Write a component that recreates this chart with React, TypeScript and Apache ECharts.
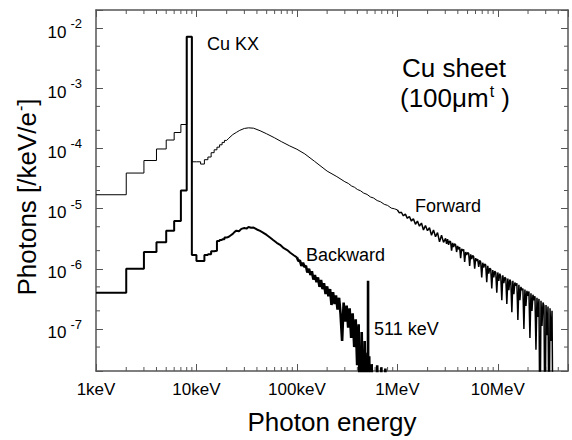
import React, { useEffect, useRef } from 'react';
import * as echarts from 'echarts';

const FONT = '"Liberation Sans", Arial, Helvetica, sans-serif';
const AXIS_COLOR = '#555';

// ---- Low-energy histogram (1 keV bins), edges in keV ----
const binEdges = [1, 2, 3, 4, 5, 6, 7, 8, 9, 10, 11, 12, 13, 14, 15, 16, 17, 18, 19, 20];
const forwardBinValues = [
  1.7e-5, 3.9e-5, 6.3e-5, 9.8e-5, 1.38e-4, 1.84e-4, 2.5e-4, 7.2e-3, 6.0e-5,
  6.0e-5, 5.5e-5, 6.5e-5, 7.2e-5, 8.5e-5, 9.5e-5, 1.05e-4, 1.15e-4, 1.26e-4, 1.36e-4,
];
const backwardBinValues = [
  4.0e-7, 1.0e-6, 1.9e-6, 2.75e-6, 4.3e-6, 6.2e-6, 2.0e-5, 7.2e-3, 1.7e-6,
  1.35e-6, 1.35e-6, 1.7e-6, 1.75e-6, 1.95e-6, 2.0e-6, 2.9e-6, 3.0e-6, 3.1e-6, 3.3e-6,
];

// ---- Forward spectrum, smooth part (keV, photons/keV/e-) ----
const forwardEnergy = [
  21, 23, 25, 27, 30, 33, 37, 43, 50, 60, 70, 85, 100, 120, 150, 200, 250, 300, 325, 350,
  375, 400, 430, 460, 500, 540, 580, 630, 680, 740, 800, 870, 940, 1000,
];
const forwardValue = [
  1.48e-4, 1.7e-4, 1.85e-4, 2.0e-4, 2.15e-4, 2.2e-4, 2.17e-4, 1.97e-4, 1.75e-4, 1.5e-4,
  1.3e-4, 1.1e-4, 9.7e-5, 8.1e-5, 6.1e-5, 4.2e-5, 3.4e-5, 2.8e-5, 2.62e-5, 2.38e-5,
  2.26e-5, 2.08e-5, 1.98e-5, 1.82e-5, 1.72e-5, 1.56e-5, 1.5e-5, 1.36e-5, 1.3e-5, 1.18e-5,
  1.13e-5, 1.02e-5, 9.9e-6, 9.55e-6,
];

// ---- Forward spectrum, noisy high-energy bins ----
const forwardNoiseEnergy = [
  1000, 1047, 1096, 1148, 1202, 1259, 1318, 1380, 1445, 1514, 1585, 1660, 1738, 1820, 1905,
  1995, 2089, 2188, 2291, 2399, 2512, 2630, 2754, 2884, 3020,
  3090, 3162, 3236, 3311, 3388, 3467, 3548, 3631, 3715, 3802, 3890, 3981, 4074, 4169, 4266,
  4365, 4467, 4571, 4677, 4786, 4898, 5012, 5129, 5248, 5370, 5495, 5623, 5754, 5888, 6026,
  6166, 6310, 6457, 6607, 6761, 6918, 7079, 7244, 7413, 7586, 7762, 7943, 8128, 8318, 8511,
  8710, 8913, 9120, 9333, 9550, 9772, 10000, 10233, 10471, 10715, 10965, 11220, 11482, 11749,
  12023, 12303, 12589, 12882, 13183, 13490, 13804, 14125, 14454, 14791, 15136, 15488, 15849,
  16218, 16596, 16982, 17378, 17783, 18197, 18621, 19055, 19498, 19953, 20417, 20893, 21380,
  21878, 22387, 22909, 23442, 23988, 24547, 25119, 25704, 26303, 26915, 27542, 28184, 28840,
  29512, 30200, 30903, 31623, 32359, 33113, 33884, 34674, 35481,
];
const forwardNoiseValue = [
  9.55e-6, 8.5e-6, 8.7e-6, 7.6e-6, 8.1e-6, 6.9e-6, 7.4e-6, 6.2e-6, 6.8e-6, 5.5e-6, 6.2e-6,
  5.1e-6, 5.75e-6, 4.4e-6, 5.25e-6, 4.3e-6, 4.8e-6, 3.6e-6, 4.4e-6, 3.4e-6, 4.0e-6, 2.8e-6,
  3.6e-6, 2.75e-6, 3.2e-6,
  2.6e-6, 3.1e-6, 2.5e-6, 2.9e-6, 2.8e-6, 2.0e-6, 2.7e-6, 2.3e-6, 2.6e-6, 2.5e-6, 1.9e-6,
  2.4e-6, 2.1e-6, 2.3e-6, 1.5e-6, 2.15e-6, 2.0e-6, 2.1e-6, 1.3e-6, 1.9e-6, 1.7e-6, 1.86e-6,
  1.8e-6, 1.12e-6, 1.74e-6, 1.45e-6, 1.66e-6, 1.58e-6, 1.0e-6, 1.5e-6, 1.35e-6, 1.45e-6,
  1.07e-6, 1.38e-6, 1.29e-6, 7.2e-7, 1.26e-6, 1.05e-6, 1.2e-6, 1.15e-6, 6.0e-7, 1.12e-6,
  8.3e-7, 1.02e-6, 9.8e-7, 4.7e-7, 9.5e-7, 7.2e-7, 9.1e-7, 8.7e-7, 4.0e-7, 8.7e-7, 6.3e-7,
  8.3e-7, 7.4e-7, 3.0e-7, 7.8e-7, 5.75e-7, 7.2e-7, 6.9e-7, 2.6e-7, 6.9e-7, 4.4e-7, 6.6e-7,
  6.0e-7, 1.9e-7, 6.3e-7, 3.8e-7, 5.9e-7, 5.25e-7, 5.75e-7, 1.41e-7, 5.4e-7, 3.0e-7, 5.0e-7,
  4.4e-7, 4.7e-7, 1.0e-7, 4.5e-7, 2.4e-7, 4.3e-7, 3.55e-7, 4.2e-7, 7.1e-8, 3.9e-7, 2.0e-7,
  3.7e-7, 3.0e-7, 3.5e-7, 4.5e-8, 3.3e-7, 1.58e-7, 3.16e-7, 1e-9, 2.95e-7, 1.12e-7, 2.75e-7,
  2.4e-7, 1e-9, 2.5e-7, 7.9e-8, 2.35e-7, 1e-9, 2.2e-7, 6.3e-8, 2.0e-7, 1e-9,
];

// ---- Backward spectrum, smooth part ----
const backwardEnergy = [
  21, 22, 23, 24, 25, 26.5, 28, 30, 31.5, 33, 35, 37, 40, 43, 46, 50, 54, 58, 63, 68, 74, 80,
  86, 93, 100,
];
const backwardValue = [
  3.4e-6, 3.6e-6, 3.8e-6, 4.1e-6, 4.3e-6, 4.2e-6, 4.6e-6, 4.75e-6, 4.65e-6, 4.95e-6, 4.8e-6,
  4.85e-6, 4.5e-6, 4.25e-6, 4.0e-6, 3.65e-6, 3.3e-6, 3.0e-6, 2.7e-6, 2.5e-6, 2.2e-6, 2.05e-6,
  1.85e-6, 1.68e-6, 1.55e-6,
];

// ---- Backward spectrum, noisy bins incl. the 511 keV annihilation line ----
const backwardNoiseEnergy = [
  100, 103.5, 107, 111, 115, 119, 123, 127, 132, 136.5, 141, 146, 151, 157, 162, 168, 174, 180,
  186, 193, 200, 206, 214, 221, 229, 237, 245, 254, 263, 272, 282, 292, 302, 313, 324, 335,
  347, 359, 372, 385, 398, 412, 427, 442, 457, 473, 490, 505, 509, 511, 513, 525, 540, 555,
  575, 603, 630, 660, 692, 724, 760, 794,
];
const backwardNoiseValue = [
  1.55e-6, 1.35e-6, 1.38e-6, 1.12e-6, 1.26e-6, 1.07e-6, 1.12e-6, 8.7e-7, 1.0e-6, 7.9e-7,
  9.1e-7, 6.6e-7, 7.9e-7, 6.0e-7, 7.2e-7, 5.0e-7, 6.5e-7, 4.6e-7, 5.75e-7, 3.8e-7, 5.1e-7,
  3.5e-7, 4.6e-7, 2.5e-7, 4.1e-7, 2.6e-7, 3.6e-7, 2.1e-7, 3.3e-7, 1.78e-7, 6.3e-8, 2.75e-7,
  1.32e-7, 2.45e-7, 1.05e-7, 2.2e-7, 7.1e-8, 1.82e-7, 5.0e-8, 1.45e-7, 2.5e-8, 1.2e-7, 1e-9,
  8.9e-8, 1e-9, 6.3e-8, 1e-9, 4.0e-8, 1e-9, 6.3e-7, 1e-9, 3.5e-8, 1e-9, 2.6e-8, 1e-9, 1e-9,
  2.5e-8, 1e-9, 2.3e-8, 1e-9, 2.2e-8, 1e-9,
];

// ---- Axes ----
const xTickLabels = ['1keV', '10keV', '100keV', '1MeV', '10MeV'];
const xRange = [1, 50000];
const yRange = [2e-8, 2e-2];
const xMinorMultipliers = [2, 3, 4, 5, 6, 7, 8, 9];
const yMinorMultipliers = [2, 5];
const xDecades = [1, 10, 100, 1000, 10000];
const yDecades = [1e-8, 1e-7, 1e-6, 1e-5, 1e-4, 1e-3, 1e-2];

function histogram(edges: number[], values: number[]) {
  const pts: number[][] = [];
  values.forEach((v, i) => {
    pts.push([edges[i], v], [edges[i + 1], v]);
  });
  return pts;
}

function pairs(xs: number[], ys: number[]) {
  return xs.map((x, i) => [x, ys[i]]);
}

function decadeExponent(v: number): number | null {
  const e = Math.round(Math.log10(v));
  const p = Math.pow(10, e);
  return Math.abs(v - p) / p < 1e-6 ? e : null;
}

export default function App() {
  const ref = useRef<HTMLDivElement>(null);

  useEffect(() => {
    if (!ref.current) return;
    const chart = echarts.init(ref.current, null, { renderer: 'svg' });

    const forwardData = [...histogram(binEdges, forwardBinValues), ...pairs(forwardEnergy, forwardValue)];
    const backwardData = [...histogram(binEdges, backwardBinValues), ...pairs(backwardEnergy, backwardValue)];

    const xMinor: number[][] = [];
    xDecades.forEach((d) =>
      xMinorMultipliers.forEach((m) => {
        if (d * m < xRange[1]) xMinor.push([d * m, 1e-5]);
      })
    );
    const yMinor: number[][] = [];
    yDecades.forEach((d) =>
      yMinorMultipliers.forEach((m) => {
        const v = d * m;
        if (v > yRange[0] * 1.0001 && v < yRange[1] * 0.9999) yMinor.push([10, v]);
      })
    );

    const axisLine = { show: true, lineStyle: { color: AXIS_COLOR, width: 1.5 } };
    const axisTick = { show: true, inside: true, length: 7, lineStyle: { color: AXIS_COLOR, width: 1 } };
    const tickStyle = { stroke: AXIS_COLOR, lineWidth: 1 };
    const lineBase = { type: 'line', xAxisIndex: 0, yAxisIndex: 0, showSymbol: false, symbol: 'none', clip: true, silent: true };

    const option: any = {
      animation: false,
      backgroundColor: '#ffffff',
      grid: { left: 96, right: 4, top: 10, bottom: 66, containLabel: false },
      xAxis: [
        {
          type: 'log',
          logBase: 10,
          min: xRange[0],
          max: xRange[1],
          position: 'bottom',
          name: 'Photon energy',
          nameLocation: 'middle',
          nameGap: 38,
          nameTextStyle: { fontSize: 26, fontFamily: FONT, color: '#000' },
          axisLine,
          axisTick,
          minorTick: { show: false },
          splitLine: { show: false },
          axisLabel: {
            show: true,
            margin: 10,
            fontSize: 17,
            fontFamily: FONT,
            color: '#000',
            showMinLabel: true,
            formatter: (v: number) => {
              const e = decadeExponent(v);
              return e === null ? '' : xTickLabels[e] ?? '';
            },
          },
        },
        {
          type: 'log',
          logBase: 10,
          min: xRange[0],
          max: xRange[1],
          position: 'top',
          axisLine,
          axisTick,
          axisLabel: { show: false },
          splitLine: { show: false },
        },
      ],
      yAxis: [
        {
          type: 'log',
          logBase: 10,
          min: yRange[0],
          max: yRange[1],
          position: 'left',
          axisLine,
          axisTick,
          splitLine: { show: false },
          axisLabel: {
            show: true,
            margin: 14,
            fontSize: 17,
            fontFamily: FONT,
            color: '#000',
            formatter: (v: number) => {
              const e = decadeExponent(v);
              return e === null ? '' : `{b|10}{s|${e}}`;
            },
            rich: {
              b: { fontSize: 17, fontFamily: FONT, color: '#000', padding: [8, 0, 0, 0] },
              s: { fontSize: 13, fontFamily: FONT, color: '#000', padding: [0, 0, 9, 4] },
            },
          },
        },
        {
          type: 'log',
          logBase: 10,
          min: yRange[0],
          max: yRange[1],
          position: 'right',
          axisLine,
          axisTick,
          axisLabel: { show: false },
          splitLine: { show: false },
        },
      ],
      series: [
        { ...lineBase, name: 'Backward', data: backwardData, lineStyle: { color: '#000', width: 2 }, z: 3 },
        {
          ...lineBase,
          name: 'Backward (noisy bins)',
          data: pairs(backwardNoiseEnergy, backwardNoiseValue),
          lineStyle: { color: '#000', width: 2.6 },
          z: 3,
        },
        { ...lineBase, name: 'Forward', data: forwardData, lineStyle: { color: '#000', width: 1 }, z: 4 },
        {
          ...lineBase,
          name: 'Forward (noisy bins)',
          data: pairs(forwardNoiseEnergy, forwardNoiseValue),
          lineStyle: { color: '#000', width: 1.5 },
          z: 4,
        },
        {
          name: 'xMinorTicks',
          type: 'custom',
          xAxisIndex: 0,
          yAxisIndex: 0,
          data: xMinor,
          silent: true,
          renderItem: (params: any, api: any) => {
            const cs = params.coordSys;
            const px = api.coord([api.value(0), api.value(1)])[0];
            return {
              type: 'group',
              children: [
                { type: 'line', shape: { x1: px, y1: cs.y + cs.height, x2: px, y2: cs.y + cs.height - 4 }, style: tickStyle },
                { type: 'line', shape: { x1: px, y1: cs.y, x2: px, y2: cs.y + 4 }, style: tickStyle },
              ],
            };
          },
        },
        {
          name: 'yMinorTicks',
          type: 'custom',
          xAxisIndex: 0,
          yAxisIndex: 0,
          data: yMinor,
          silent: true,
          renderItem: (params: any, api: any) => {
            const cs = params.coordSys;
            const py = api.coord([api.value(0), api.value(1)])[1];
            return {
              type: 'group',
              children: [
                { type: 'line', shape: { x1: cs.x, y1: py, x2: cs.x + 4, y2: py }, style: tickStyle },
                { type: 'line', shape: { x1: cs.x + cs.width, y1: py, x2: cs.x + cs.width - 4, y2: py }, style: tickStyle },
              ],
            };
          },
        },
      ],
      graphic: [
        {
          type: 'text', x: 27, y: 197, rotation: Math.PI / 2,
          style: {
            text: 'Photons [/keV/e{sup|-}]', fontSize: 26, fontFamily: FONT, fill: '#000',
            textAlign: 'center', align: 'center', textVerticalAlign: 'middle', verticalAlign: 'middle',
            rich: { sup: { fontSize: 16, fontFamily: FONT, fill: '#000', padding: [0, 0, 14, 1] } },
          },
        },
        {
          type: 'text', x: 207, y: 44,
          style: { text: 'Cu KX', fontSize: 18, fontFamily: FONT, fill: '#000', textAlign: 'left', align: 'left', textVerticalAlign: 'middle', verticalAlign: 'middle' },
        },
        {
          type: 'text', x: 454, y: 68,
          style: { text: 'Cu sheet', fontSize: 26, fontFamily: FONT, fill: '#000', textAlign: 'center', align: 'center', textVerticalAlign: 'middle', verticalAlign: 'middle' },
        },
        {
          type: 'text', x: 455, y: 98,
          style: {
            text: '(100μm{t|t} )', fontSize: 26, fontFamily: FONT, fill: '#000',
            textAlign: 'center', align: 'center', textVerticalAlign: 'middle', verticalAlign: 'middle',
            rich: { t: { fontSize: 16, fontFamily: FONT, fill: '#000', padding: [0, 0, 14, 1] } },
          },
        },
        {
          type: 'text', x: 415, y: 206,
          style: { text: 'Forward', fontSize: 18, fontFamily: FONT, fill: '#000', textAlign: 'left', align: 'left', textVerticalAlign: 'middle', verticalAlign: 'middle' },
        },
        {
          type: 'text', x: 306, y: 255,
          style: { text: 'Backward', fontSize: 18, fontFamily: FONT, fill: '#000', textAlign: 'left', align: 'left', textVerticalAlign: 'middle', verticalAlign: 'middle' },
        },
        {
          type: 'text', x: 374, y: 329,
          style: { text: '511 keV', fontSize: 18, fontFamily: FONT, fill: '#000', textAlign: 'left', align: 'left', textVerticalAlign: 'middle', verticalAlign: 'middle' },
        },
      ],
    };

    chart.setOption(option);
    return () => chart.dispose();
  }, []);

  return (
    <div
      ref={ref}
      style={{ position: 'fixed', left: 0, top: 0, width: 572, height: 440, background: '#fff' }}
    />
  );
}
